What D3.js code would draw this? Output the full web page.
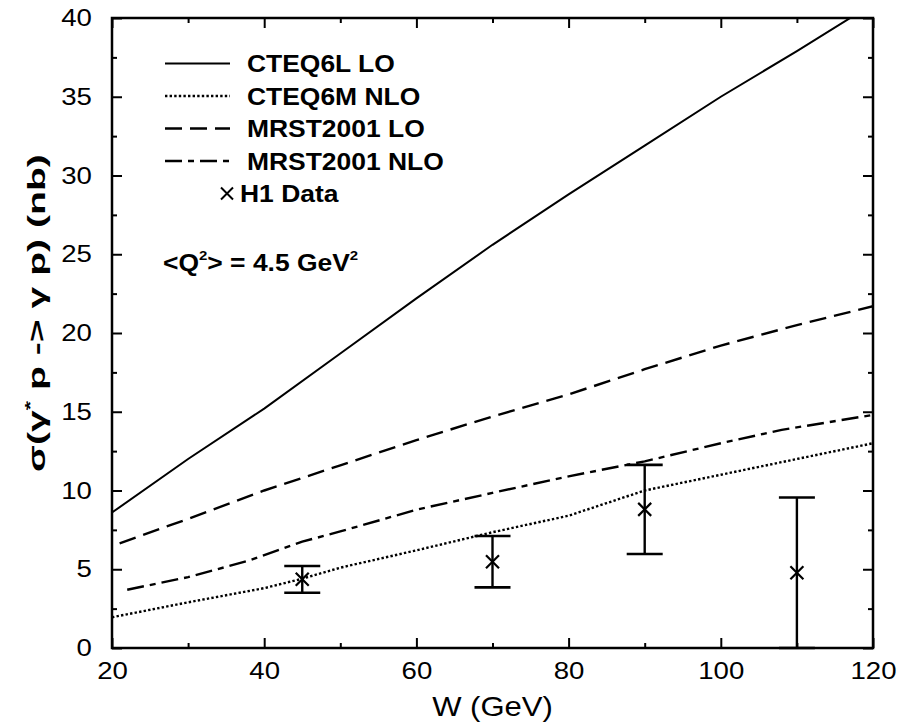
<!DOCTYPE html>
<html>
<head>
<meta charset="utf-8">
<script src="https://cdn.jsdelivr.net/npm/d3@7"></script>
<style>
  html, body { margin: 0; padding: 0; background: #fff; }
  svg { display: block; }
  text { font-family: "Liberation Sans", Arial, Helvetica, sans-serif; fill: #000; }
</style>
</head>
<body>
<svg id="chart" width="914" height="726"></svg>
<script>
// Photon-proton DVCS cross section vs W at <Q^2> = 4.5 GeV^2

// CTEQ6L LO prediction
const cteq6lW  = [20, 30, 40, 50, 60, 70, 80, 90, 100, 110, 120];
const cteq6lLO = [8.6, 12.0, 15.2, 18.7, 22.2, 25.6, 28.8, 31.9, 35.0, 37.9, 40.9];

// CTEQ6M NLO prediction
const cteq6mW   = [20, 30, 40, 45, 50, 60, 70, 80, 85, 90, 100, 110, 120];
const cteq6mNLO = [1.95, 2.9, 3.8, 4.4, 5.1, 6.2, 7.35, 8.4, 9.2, 10.0, 11.0, 12.0, 13.0];

// MRST2001 LO prediction
const mrstLoW = [21, 30, 40, 50, 60, 70, 80, 90, 100, 110, 120];
const mrstLO  = [6.65, 8.2, 10.0, 11.6, 13.2, 14.7, 16.1, 17.7, 19.2, 20.5, 21.7];

// MRST2001 NLO prediction
const mrstNloW = [22, 30, 38, 45, 50, 60, 70, 80, 90, 100, 108, 120];
const mrstNLO  = [3.7, 4.5, 5.55, 6.75, 7.4, 8.78, 9.85, 10.9, 11.85, 13.0, 13.85, 14.8];

// H1 measurements
const h1W     = [45, 70, 90, 110];
const h1Sigma = [4.36, 5.48, 8.8, 4.78];
const h1Err   = [0.85, 1.63, 2.83, 4.78];

// Axis ticks
const xMajorTicks = [20, 40, 60, 80, 100, 120];
const xMinorTicks = [30, 50, 70, 90, 110];
const yMajorTicks = [0, 5, 10, 15, 20, 25, 30, 35, 40];
const yMinorTicks = [2.5, 7.5, 12.5, 17.5, 22.5, 27.5, 32.5, 37.5];

const legendLabels = ["CTEQ6L LO", "CTEQ6M NLO", "MRST2001 LO", "MRST2001 NLO", "H1 Data"];

(function draw() {
  const svg = d3.select("#chart");
  const pL = 112, pR = 873, pT = 18, pB = 648;
  const SX = 1.15; // horizontal stretch of the lettering

  const x = d3.scaleLinear().domain([20, 120]).range([pL, pR]);
  const y = d3.scaleLinear().domain([0, 40]).range([pB, pT]);

  const styles = [
    { dash: null,        width: 2.0 },   // CTEQ6L LO
    { dash: "2.4,2.2",   width: 2.4 },   // CTEQ6M NLO
    { dash: "17,8",      width: 2.4 },   // MRST2001 LO
    { dash: "17,6,6,6",  width: 2.4 }    // MRST2001 NLO
  ];

  const series = [
    cteq6lW.map((w, i) => [w, cteq6lLO[i]]),
    cteq6mW.map((w, i) => [w, cteq6mNLO[i]]),
    mrstLoW.map((w, i) => [w, mrstLO[i]]),
    mrstNloW.map((w, i) => [w, mrstNLO[i]])
  ];

  svg.append("clipPath").attr("id", "plotClip")
    .append("rect").attr("x", pL).attr("y", pT)
    .attr("width", pR - pL).attr("height", pB - pT);

  const line = d3.line().x(d => x(d[0])).y(d => y(d[1]));

  const curves = svg.append("g").attr("clip-path", "url(#plotClip)");
  series.forEach((s, i) => {
    curves.append("path")
      .attr("d", line(s))
      .attr("fill", "none")
      .attr("stroke", "#000")
      .attr("stroke-width", styles[i].width)
      .attr("stroke-dasharray", styles[i].dash);
  });

  // H1 data with error bars
  const capHalf = 18, mk = 6.5;
  const pts = svg.append("g").attr("stroke", "#000").attr("fill", "none");
  h1W.forEach((w, i) => {
    const cx = x(w), cy = y(h1Sigma[i]);
    const yHi = y(h1Sigma[i] + h1Err[i]), yLo = y(Math.max(0, h1Sigma[i] - h1Err[i]));
    pts.append("line").attr("x1", cx).attr("x2", cx).attr("y1", yHi).attr("y2", yLo).attr("stroke-width", 2.4);
    pts.append("line").attr("x1", cx - capHalf).attr("x2", cx + capHalf).attr("y1", yHi).attr("y2", yHi).attr("stroke-width", 2.6);
    pts.append("line").attr("x1", cx - capHalf).attr("x2", cx + capHalf).attr("y1", yLo).attr("y2", yLo).attr("stroke-width", 2.6);
    pts.append("path")
      .attr("d", `M${cx - mk},${cy - mk}L${cx + mk},${cy + mk}M${cx - mk},${cy + mk}L${cx + mk},${cy - mk}`)
      .attr("stroke-width", 2.2);
  });

  // Axes: inward ticks on all four sides
  function styleAxis(g) {
    g.select(".domain").remove();
    g.selectAll("line").attr("stroke", "#000").attr("stroke-width", 2);
  }
  function styleLabels(g) {
    g.selectAll("text")
      .attr("font-size", 24)
      .attr("font-family", "Liberation Sans, Arial, sans-serif")
      .attr("fill", "#000")
      .attr("transform", `scale(${SX},1)`);
  }
  svg.append("g").attr("transform", `translate(0,${pB})`)
    .call(d3.axisBottom(x).tickValues(xMajorTicks).tickSize(-10).tickPadding(14).tickFormat(d3.format("d")))
    .call(styleAxis).call(styleLabels);
  svg.append("g").attr("transform", `translate(0,${pB})`)
    .call(d3.axisBottom(x).tickValues(xMinorTicks).tickSize(-5).tickFormat(""))
    .call(styleAxis);
  svg.append("g").attr("transform", `translate(0,${pT})`)
    .call(d3.axisTop(x).tickValues(xMajorTicks).tickSize(-10).tickFormat(""))
    .call(styleAxis);
  svg.append("g").attr("transform", `translate(0,${pT})`)
    .call(d3.axisTop(x).tickValues(xMinorTicks).tickSize(-5).tickFormat(""))
    .call(styleAxis);

  svg.append("g").attr("transform", `translate(${pL},0)`)
    .call(d3.axisLeft(y).tickValues(yMajorTicks).tickSize(-10).tickPadding(17.5).tickFormat(d3.format("d")))
    .call(styleAxis).call(styleLabels);
  svg.append("g").attr("transform", `translate(${pL},0)`)
    .call(d3.axisLeft(y).tickValues(yMinorTicks).tickSize(-5).tickFormat(""))
    .call(styleAxis);
  svg.append("g").attr("transform", `translate(${pR},0)`)
    .call(d3.axisRight(y).tickValues(yMajorTicks).tickSize(-10).tickFormat(""))
    .call(styleAxis);
  svg.append("g").attr("transform", `translate(${pR},0)`)
    .call(d3.axisRight(y).tickValues(yMinorTicks).tickSize(-5).tickFormat(""))
    .call(styleAxis);

  // Frame
  svg.append("rect")
    .attr("x", pL).attr("y", pT).attr("width", pR - pL).attr("height", pB - pT)
    .attr("fill", "none").attr("stroke", "#000").attr("stroke-width", 2.5);

  // Axis titles
  svg.append("text")
    .attr("transform", `translate(${(pL + pR) / 2},716) scale(${SX},1)`)
    .attr("text-anchor", "middle").attr("font-size", 27)
    .text("W (GeV)");

  const yTitle = svg.append("text")
    .attr("text-anchor", "middle").attr("font-size", 23).attr("font-weight", "bold");
  yTitle.append("tspan").text("σ(γ");
  yTitle.append("tspan").attr("font-size", 14).attr("dy", "-0.75em").text("*");
  yTitle.append("tspan").attr("dy", "0.45em").text(" p -> γ p) (nb)");
  const yLen = yTitle.node().getComputedTextLength();
  yTitle.attr("transform", `translate(45,313) rotate(-90) scale(${318 / yLen},1)`);

  // Legend
  const legX1 = 165, legX2 = 230, legText = 247;
  const legRows = [63.5, 96, 128.5, 161, 193.5];
  const legend = svg.append("g");
  legendLabels.forEach((lab, i) => {
    const ly = legRows[i];
    let tx = legText;
    if (i < 4) {
      legend.append("line")
        .attr("x1", legX1).attr("x2", legX2).attr("y1", ly).attr("y2", ly)
        .attr("stroke", "#000").attr("stroke-width", styles[i].width)
        .attr("stroke-dasharray", styles[i].dash);
    } else {
      const cx = 227;
      tx = 240;
      legend.append("path")
        .attr("d", `M${cx - 6},${ly - 6}L${cx + 6},${ly + 6}M${cx - 6},${ly + 6}L${cx + 6},${ly - 6}`)
        .attr("stroke", "#000").attr("stroke-width", 2).attr("fill", "none");
    }
    legend.append("text")
      .attr("transform", `translate(${tx},${ly + 8.5}) scale(${SX},1)`)
      .attr("font-size", 23).attr("font-weight", "bold")
      .text(lab);
  });

  // Kinematic annotation
  const q2 = svg.append("text")
    .attr("transform", `translate(163,271) scale(${SX},1)`)
    .attr("font-size", 23).attr("font-weight", "bold");
  q2.append("tspan").text("<Q");
  q2.append("tspan").attr("font-size", 13).attr("dy", "-0.85em").text("2");
  q2.append("tspan").attr("dy", "0.48em").text("> = 4.5 GeV");
  q2.append("tspan").attr("font-size", 13).attr("dy", "-0.85em").text("2");
})();
</script>
</body>
</html>
